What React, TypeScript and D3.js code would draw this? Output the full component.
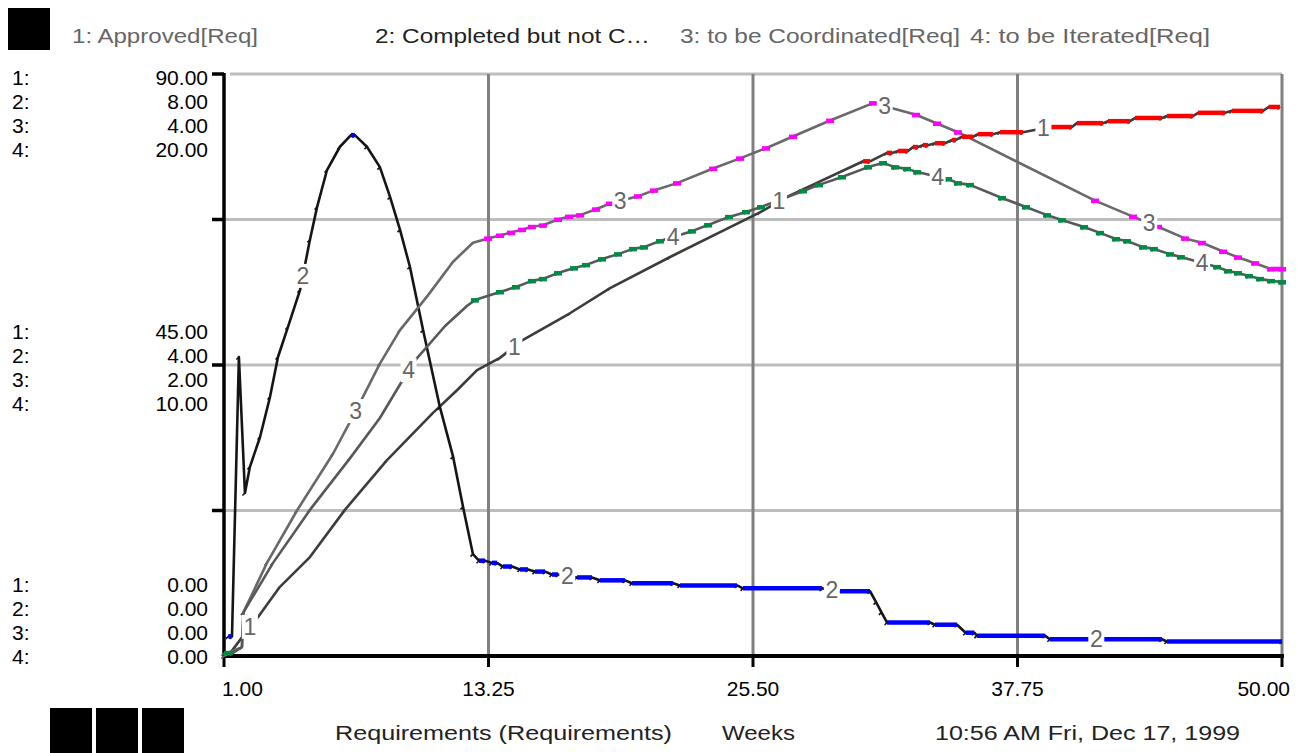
import React, { useEffect } from 'react';
import * as d3 from 'd3';

// values, [week, value]
const approved: [number, number][] = [
  [1.0, 0], [1.32, 0.6], [2.2, 4.5], [2.57, 6.0], [3.59, 10.7], [4.98, 15.3], [6.6, 22.6], [8.55, 30.3],
  [10.68, 37.6], [11.79, 41.1], [12.72, 44.2], [13.78, 46.1], [14.85, 48.9], [17.02, 53.0], [18.88, 56.9],
  [21.66, 61.7], [25.82, 68.6], [27.07, 71.0], [30.6, 76.5], [30.92, 76.5], [31.7, 77.8], [31.94, 77.8],
  [32.22, 78.1], [32.68, 78.1], [32.91, 78.7], [33.14, 78.7], [33.37, 79.0], [33.6, 79.0], [33.93, 79.3],
  [34.39, 79.3], [34.72, 79.8], [34.9, 79.8], [35.18, 80.3], [35.69, 80.3], [35.92, 80.7], [36.61, 80.7],
  [36.94, 81.0], [38.0, 81.0], [39.26, 81.8], [40.27, 81.8], [40.5, 82.4], [41.71, 82.4], [41.94, 82.7],
  [42.96, 82.7], [43.19, 83.2], [44.44, 83.2], [44.67, 83.5], [45.88, 83.5], [46.11, 84.0], [47.36, 84.0],
  [47.68, 84.3], [49.12, 84.3], [49.38, 84.9], [49.91, 84.9],
];

const completed: [number, number][] = [
  [1.2, 0.27], [1.37, 0.27], [1.69, 4.11], [1.97, 2.24], [2.2, 2.6], [2.67, 3.01], [3.13, 3.56], [3.5, 4.11],
  [3.96, 4.52], [4.52, 5.03], [4.98, 5.72], [5.31, 6.17], [5.77, 6.68], [6.37, 7.0], [6.88, 7.16], [7.06, 7.16],
  [7.62, 7.0], [8.22, 6.72], [8.69, 6.31], [9.15, 5.86], [9.61, 5.35], [10.22, 4.48], [11.0, 3.42], [11.61, 2.74],
  [12.07, 2.05], [12.53, 1.4], [12.81, 1.31], [13.09, 1.31], [13.41, 1.28], [13.64, 1.28], [13.92, 1.23],
  [14.34, 1.23], [14.71, 1.19], [15.08, 1.19], [15.4, 1.16], [15.87, 1.16], [16.19, 1.12], [16.47, 1.12],
  [17.35, 1.08], [18.04, 1.08], [18.41, 1.04], [19.57, 1.04], [19.9, 1.0], [21.8, 1.0], [22.12, 0.97],
  [24.76, 0.97], [25.04, 0.93], [28.7, 0.93], [29.53, 0.89], [30.92, 0.89], [31.2, 0.74], [31.45, 0.6],
  [31.71, 0.46], [33.7, 0.46], [33.93, 0.43], [34.95, 0.43], [35.35, 0.32], [35.75, 0.32], [35.87, 0.28],
  [39.02, 0.28], [39.25, 0.23], [44.44, 0.23], [44.67, 0.2], [50.0, 0.2],
];

const coordinated: [number, number][] = [
  [1.0, 0], [1.32, 0.03], [1.83, 0.06], [1.9, 0.3], [2.99, 0.64], [4.38, 1.0], [6.05, 1.39], [7.16, 1.7],
  [8.22, 2.01], [9.15, 2.24], [10.4, 2.47], [11.61, 2.71], [12.53, 2.84], [13.23, 2.87], [13.78, 2.89],
  [14.29, 2.91], [14.8, 2.93], [15.26, 2.95], [15.77, 2.96], [16.47, 3.0], [16.98, 3.02], [17.49, 3.03],
  [18.23, 3.07], [18.88, 3.11], [20.17, 3.16], [20.91, 3.2], [21.98, 3.25], [23.65, 3.35], [24.9, 3.42],
  [26.1, 3.49], [27.35, 3.57], [29.07, 3.68], [31.06, 3.8], [33.05, 3.72], [34.02, 3.66], [34.99, 3.6],
  [41.34, 3.13], [43.1, 3.02], [44.26, 2.95], [45.51, 2.87], [46.29, 2.84], [47.27, 2.78], [47.96, 2.74],
  [48.75, 2.7], [49.49, 2.66], [50.0, 2.66],
];

const iterated: [number, number][] = [
  [1.0, 0.1], [1.4, 0.1], [1.83, 0.31], [1.9, 1.5], [3.27, 3.2], [4.98, 5.02], [6.84, 6.8], [8.22, 8.18],
  [9.75, 10.07], [11.24, 11.34], [12.25, 12.03], [12.62, 12.23], [13.78, 12.51], [14.52, 12.68], [15.26, 12.89],
  [15.77, 12.96], [16.47, 13.16], [17.21, 13.33], [17.77, 13.44], [18.51, 13.64], [19.25, 13.81], [19.94, 13.99],
  [20.45, 14.05], [21.19, 14.26], [22.67, 14.6], [23.42, 14.81], [24.39, 15.09], [25.18, 15.26], [25.87, 15.43],
  [27.82, 15.98], [28.56, 16.19], [29.62, 16.46], [30.83, 16.8], [31.52, 16.94], [32.08, 16.8], [32.63, 16.74],
  [33.1, 16.63], [34.53, 16.39], [34.99, 16.25], [35.55, 16.19], [37.03, 15.74], [38.14, 15.43], [39.12, 15.15],
  [39.81, 14.98], [40.83, 14.74], [41.57, 14.54], [42.31, 14.33], [42.82, 14.26], [43.56, 14.05], [44.07, 13.99],
  [44.81, 13.81], [45.32, 13.71], [46.99, 13.37], [47.5, 13.23], [47.96, 13.16], [48.47, 13.06], [48.98, 12.96],
  [49.49, 12.89], [50.0, 12.85],
];

const seriesNames = ['1: Approved[Req]', '2: Completed but not C\u2026', '3: to be Coordinated[Req]', '4: to be Iterated[Req]'];
const seriesMax = [90, 8, 4, 20];
const xTicks = [1, 13.25, 25.5, 37.75, 50];
const footer = ['Requirements (Requirements)', 'Weeks', '10:56 AM  Fri, Dec 17, 1999'];

const allSeries = [approved, completed, coordinated, iterated];
const lineColors = ['#3c3c3c', '#151515', '#696969', '#585858'];
const markColors = ['#ff0000', '#0000ff', '#ff00ff', '#008a45'];
const font = '"Liberation Sans", Arial, sans-serif';

// legend / footer placement
const legendX = [72, 375, 680, 970];
const legendW = [186, 275, 280, 240];
const footerX = [335, 722, 935];
const footerW = [337, 73, 305];

const interp = (pts: [number, number][], t: number) => {
  for (let i = 1; i < pts.length; i++) {
    if (t <= pts[i][0]) {
      const [t0, v0] = pts[i - 1];
      const [t1, v1] = pts[i];
      return v0 + (v1 - v0) * (t - t0) / (t1 - t0);
    }
  }
  return pts[pts.length - 1][1];
};

export default function App() {
  useEffect(() => {
    document.body.style.margin = '0';
  }, []);

  const left = 224, right = 1282, top = 74, bottom = 656;
  const x = d3.scaleLinear().domain([1, 50]).range([left, right]);
  const ys = seriesMax.map(m => d3.scaleLinear().domain([0, m]).range([bottom, top]));

  const lines = allSeries.map((pts, k) =>
    d3.line<[number, number]>().x(d => x(d[0])).y(d => ys[k](d[1]))(pts) || '');

  const gridFracs = [0.25, 0.5, 0.75];
  const labelGroups = [
    { frac: 1, y0: ys[0](90) + 3 },
    { frac: 0.5, y0: ys[0](45) - 34 },
    { frac: 0, y0: bottom - 72 },
  ];

  return (
    <svg width={1311} height={753} style={{ position: 'absolute', left: 0, top: 0, background: '#fff' }}
      fontFamily={font}>
      <rect x={0} y={0} width={1311} height={753} fill="#fff" />

      {/* legend */}
      <rect x={8} y={8} width={42} height={42} fill="#000" />
      {seriesNames.map((n, k) => (
        <text key={n} x={legendX[k]} y={35} fontSize={21} fill={k === 1 ? '#222' : '#666'}
          dominantBaseline="central" textLength={legendW[k]} lengthAdjust="spacingAndGlyphs">{n}</text>
      ))}

      {/* grid */}
      <line x1={left + 6} x2={right} y1={top} y2={top} stroke="#bdbdbd" strokeWidth={3} />
      {gridFracs.map(f => (
        <line key={f} x1={left} x2={right} y1={ys[0](90 * f)} y2={ys[0](90 * f)} stroke="#bdbdbd" strokeWidth={3} />
      ))}
      {xTicks.slice(1).map(t => (
        <line key={t} x1={x(t)} x2={x(t)} y1={top} y2={bottom} stroke="#808080" strokeWidth={3} />
      ))}

      {/* axes */}
      <line x1={left} x2={left} y1={top - 1} y2={bottom + 2} stroke="#000" strokeWidth={3.5} />
      <line x1={left - 2} x2={right + 2} y1={bottom} y2={bottom} stroke="#000" strokeWidth={4} />
      {[1, ...gridFracs].map(f => (
        <line key={f} x1={left - 12} x2={left} y1={ys[0](90 * f)} y2={ys[0](90 * f)} stroke="#000" strokeWidth={3.5} />
      ))}
      {xTicks.map(t => (
        <line key={t} x1={x(t)} x2={x(t)} y1={bottom} y2={bottom + 11} stroke="#000" strokeWidth={3} />
      ))}

      {/* left scale labels, one row per series */}
      {labelGroups.map(g => seriesMax.map((m, k) => (
        <g key={g.frac + '-' + k} fontSize={21} fill="#000">
          <text x={12} y={g.y0 + k * 24} dominantBaseline="central">{k + 1}:</text>
          <text x={208} y={g.y0 + k * 24} dominantBaseline="central" textAnchor="end">{(m * g.frac).toFixed(2)}</text>
        </g>
      )))}

      {/* x tick labels */}
      {xTicks.map((t, i) => (
        <text key={t} x={i === 0 ? x(t) - 2 : i === xTicks.length - 1 ? x(t) + 8 : x(t)} y={688}
          fontSize={21} dominantBaseline="central"
          textAnchor={i === 0 ? 'start' : i === xTicks.length - 1 ? 'end' : 'middle'}>{t.toFixed(2)}</text>
      ))}

      {/* series lines */}
      {lines.map((d, k) => (
        <path key={k} d={d} fill="none" stroke={lineColors[k]} strokeWidth={2.6} strokeLinejoin="round" />
      ))}

      {/* small sample ticks */}
      {allSeries.map((pts, k) => pts.map((p, i) => {
        const px = x(p[0]), py = ys[k](p[1]);
        return <line key={k + '-' + i} x1={px} y1={py} x2={px - 2.5} y2={py + 2.5} stroke={lineColors[k]} strokeWidth={1.6} />;
      }))}

      {/* flat stretches drawn in the series colour */}
      {allSeries.map((pts, k) => pts.slice(1).map((p, i) => {
        const q = pts[i];
        if (q[1] !== p[1]) return null;
        return <line key={k + 'f' + i} x1={x(q[0])} x2={x(p[0])} y1={ys[k](p[1])} y2={ys[k](p[1])}
          stroke={markColors[k]} strokeWidth={4.5} />;
      }))}

      {/* sample markers on 3 and 4 */}
      {[2, 3].map(k => allSeries[k].filter(p => p[0] >= 12.6).map((p, i) => (
        <rect key={k + 'm' + i} x={x(p[0]) - 4} y={ys[k](p[1]) - 2} width={8} height={4.5} fill={markColors[k]} />
      )))}

      {/* series number labels along the lines */}
      {allSeries.map((pts, k) => [0, 1, 2, 3].map(j => {
        const t = 2.2 + 12.25 * j + 2.45 * k;
        const px = x(t), py = ys[k](interp(pts, t));
        return (
          <g key={k + 'l' + j}>
            <rect x={px - 8} y={py - 12} width={16} height={24} fill="#fff" />
            <text x={px} y={py} fontSize={23} fill="#666" textAnchor="middle" dominantBaseline="central">{k + 1}</text>
          </g>
        );
      }))}

      {/* footer */}
      {[50, 96, 142].map(bx => (
        <rect key={bx} x={bx} y={708} width={42} height={45} fill="#000" />
      ))}
      {footer.map((f, i) => (
        <text key={f} x={footerX[i]} y={733} fontSize={20} fill="#222" dominantBaseline="central"
          textLength={footerW[i]} lengthAdjust="spacingAndGlyphs">{f}</text>
      ))}
    </svg>
  );
}
